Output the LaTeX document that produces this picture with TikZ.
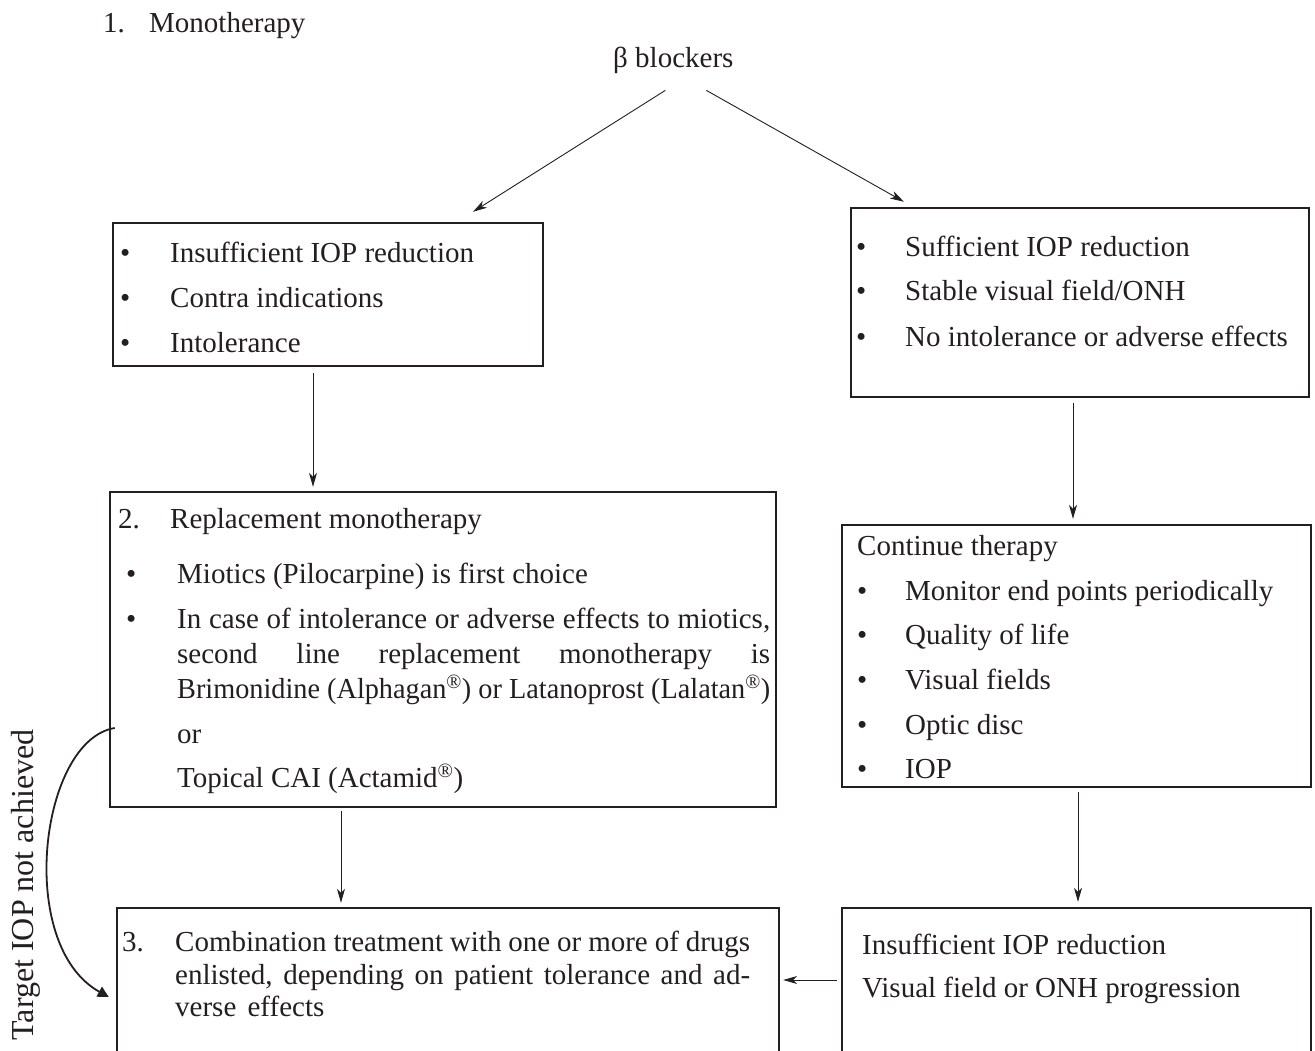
\documentclass[tikz,border=0pt]{standalone}
\usepackage{fontspec}
\usepackage{graphicx}
\setmainfont{Liberation Serif}
\usetikzlibrary{arrows.meta,calc}
\definecolor{ink}{HTML}{231F20}
\newcommand\jline[2]{\hbox to #1{\spaceskip=7.25pt plus 1fil minus 4pt\relax #2}}
\begin{document}
\begin{tikzpicture}[x=1pt,y=-1pt,
  txt/.style={anchor=base west,inner sep=0pt,font=\fontsize{29}{35}\selectfont\frenchspacing,text=ink},
  boxshape/.style={draw=ink,line width=2.4pt,inner sep=0pt},
  arr/.style={draw=ink,line width=0.9pt,-{Stealth[length=14pt,width=8pt,inset=4pt]}},
  bigarr/.style={draw=ink,line width=1.8pt,-{Triangle[length=11pt,width=11pt]}}]
\useasboundingbox (0,0) rectangle (1315,1051);
\clip (0,0) rectangle (1315,1051);
\fill[white] (0,0) rectangle (1315,1051);
% boxes
\node[boxshape,minimum width=430pt,minimum height=143pt] (A) at (328,294.5) {};
\node[boxshape,minimum width=458pt,minimum height=189pt] (B) at (1080,302.5) {};
\node[boxshape,minimum width=666pt,minimum height=315pt] (C) at (443,649.5) {};
\node[boxshape,minimum width=469pt,minimum height=262pt] (D) at (1076.5,656) {};
\node[boxshape,minimum width=662pt,minimum height=162pt] (E) at (448,989) {};
\node[boxshape,minimum width=469pt,minimum height=162pt] (F) at (1076.5,989) {};
% header
\node[txt] (n1) at (103,33) {1.};
\node[txt] (mono) at (149,33) {Monotherapy};
\node[txt] (beta) at (613,68) {β blockers};
% box A
\node[txt] (ab1) at (120,262) {•};
\node[txt] (at1) at (170,262) {Insufficient IOP reduction};
\node[txt] (ab2) at (120,307) {•};
\node[txt] (at2) at (170,307) {Contra indications};
\node[txt] (ab3) at (120,352) {•};
\node[txt] (at3) at (170,352) {Intolerance};
% box B
\node[txt] (bb1) at (856,257) {•};
\node[txt] (bt1) at (905,257) {Sufficient IOP reduction};
\node[txt] (bb2) at (856,301) {•};
\node[txt] (bt2) at (905,301) {Stable visual field/ONH};
\node[txt] (bb3) at (856,346) {•};
\node[txt] (bt3) at (905,346) {No intolerance or adverse effects};
% box C
\node[txt] (c0) at (118,528) {2.};
\node[txt] (ct0) at (170,528) {Replacement monotherapy};
\node[txt] (cb1) at (126,583) {•};
\node[txt] (ct1) at (177,583) {Miotics (Pilocarpine) is first choice};
\node[txt] (cb2) at (126,628) {•};
\node[txt] (ct2) at (177,628) {\jline{593pt}{In case of intolerance or adverse effects to miotics,}};
\node[txt] (ct3) at (177,663) {\jline{593pt}{second line replacement monotherapy is}};
\node[txt] (ct4) at (177,698) {\resizebox{593pt}{\height}{Brimonidine (Alphagan\textsuperscript{®}) or Latanoprost (Lalatan\textsuperscript{®})}};
\node[txt] (ct5) at (177,743) {or};
\node[txt] (ct6) at (177,787) {Topical CAI (Actamid\textsuperscript{®})};
% box D
\node[txt] (dt0) at (857,555) {Continue therapy};
\node[txt] (db1) at (857,600) {•};
\node[txt] (dt1) at (905,600) {Monitor end points periodically};
\node[txt] (db2) at (857,644) {•};
\node[txt] (dt2) at (905,644) {Quality of life};
\node[txt] (db3) at (857,689) {•};
\node[txt] (dt3) at (905,689) {Visual fields};
\node[txt] (db4) at (857,734) {•};
\node[txt] (dt4) at (905,734) {Optic disc};
\node[txt] (db5) at (857,778) {•};
\node[txt] (dt5) at (905,778) {IOP};
% box E
\node[txt] (e0) at (122,951) {3.};
\node[txt] (et1) at (175,951) {\jline{575pt}{Combination treatment with one or more of drugs}};
\node[txt] (et2) at (175,984) {\jline{575pt}{enlisted, depending on patient tolerance and ad-}};
\node[txt] (et3) at (175,1016) {verse\hspace{4pt} effects};
% box F
\node[txt] (ft1) at (862,954) {Insufficient IOP reduction};
\node[txt] (ft2) at (862,997) {Visual field or ONH progression};
% rotated label
\node[txt,anchor=base,rotate=90,font=\fontsize{32}{38}\selectfont] (tgt) at (34,885) {Target IOP not achieved};
% connectors
\draw[arr] ($(beta.south)+(-8,16)$) -- ($(A.north)+(145,-10)$);
\draw[arr] ($(beta.south)+(33,16)$) -- ($(B.north)+(-176,-5)$);
\draw[arr] ($(A.south)+(-15,6)$) -- ($(C.north)+(-130,-4)$);
\draw[arr] ($(B.south)+(-7,5)$) -- ($(D.north)+(-3.5,-5)$);
\draw[arr] ($(C.south)+(-102,3)$) -- ($(E.north)+(-107,-4)$);
\draw[arr] ($(D.south)+(1.5,4)$) -- ($(F.north)+(1.5,-5)$);
\draw[arr] ($(F.west)+(-4,-9)$) -- ($(E.east)+(3,-9)$);
\draw[bigarr] ($(C.west)+(6,78.5)$) .. controls (40,740) and (15,945) .. ($(E.west)+(-7,8)$);
\end{tikzpicture}
\end{document}
